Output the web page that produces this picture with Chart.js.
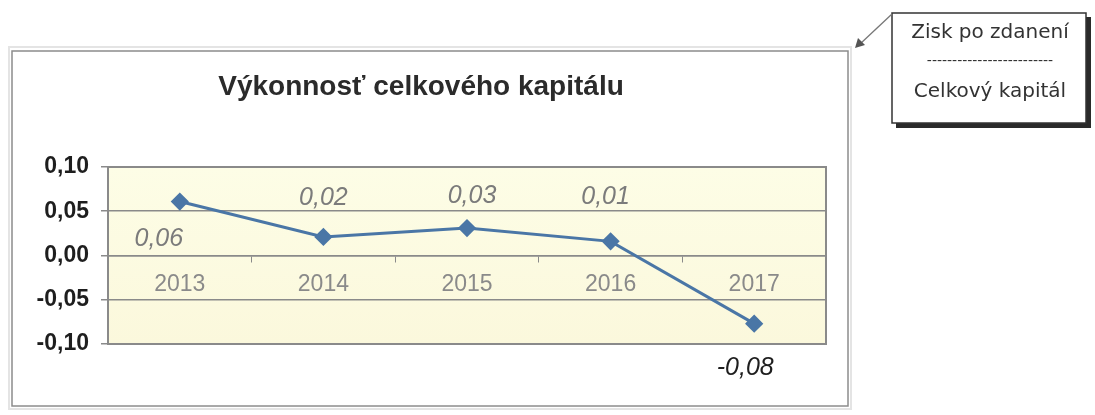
<!DOCTYPE html>
<html>
<head>
<meta charset="utf-8">
<script src="https://cdn.jsdelivr.net/npm/chart.js@4/dist/chart.umd.min.js"></script>
<style>
  html, body { margin: 0; padding: 0; background: #fff; }
  #wrap { width: 1095px; height: 415px; position: relative; }
</style>
</head>
<body>
<div id="wrap"><canvas id="chart" width="1095" height="415"></canvas></div>
<script>
const years = ['2013', '2014', '2015', '2016', '2017'];
const values = [0.061, 0.021, 0.031, 0.016, -0.077];
const valueLabels = ['0,06', '0,02', '0,03', '0,01', '-0,08'];
const yTicks = [0.10, 0.05, 0.00, -0.05, -0.10];
const chartTitle = 'Výkonnosť celkového kapitálu';
const noteTop = 'Zisk po zdanení';
const noteBottom = 'Celkový kapitál';

// where each value label sits relative to its point (dx, dy)
const labelOffsets = [[-21, 38], [0, -39], [5, -32], [-5, -44], [-9, 44]];
const labelColors = ['#7b7b7b', '#7b7b7b', '#7b7b7b', '#7b7b7b', '#1e1e1e'];

const fmt = v => (Math.abs(v) < 1e-9 ? 0 : v).toFixed(2).replace('.', ',');

const decor = {
  id: 'decor',
  beforeDraw(chart) {
    const ctx = chart.ctx;
    const a = chart.chartArea;
    ctx.save();
    ctx.fillStyle = '#fff';
    ctx.fillRect(0, 0, chart.width, chart.height);

    // outer chart frame
    ctx.strokeStyle = '#e4e4e4';
    ctx.lineWidth = 2;
    ctx.strokeRect(9, 47, 842, 362);
    ctx.strokeStyle = '#8c8c8c';
    ctx.lineWidth = 1.5;
    ctx.strokeRect(12, 51, 836, 355);

    // plot background
    const g = ctx.createLinearGradient(0, a.top, 0, a.bottom);
    g.addColorStop(0, '#fdfde6');
    g.addColorStop(1, '#fbf8dc');
    ctx.fillStyle = g;
    ctx.fillRect(a.left, a.top, a.right - a.left, a.bottom - a.top);

    // title
    ctx.fillStyle = '#2b2b2b';
    ctx.font = 'bold 28px "Liberation Sans", Arial, sans-serif';
    ctx.textAlign = 'center';
    ctx.textBaseline = 'middle';
    ctx.fillText(chartTitle, 421, 87);

    // callout box
    ctx.fillStyle = '#2a2a2a';
    ctx.fillRect(896, 17, 195, 111);
    ctx.fillStyle = '#fff';
    ctx.fillRect(892, 13, 194, 110);
    ctx.strokeStyle = '#333';
    ctx.lineWidth = 1.5;
    ctx.strokeRect(892, 13, 194, 110);
    ctx.fillStyle = '#333';
    ctx.font = '20px "DejaVu Sans", Verdana, sans-serif';
    ctx.fillText(noteTop, 990, 33);
    ctx.font = '14px "DejaVu Sans", Verdana, sans-serif';
    ctx.fillText('-------------------------', 990, 61);
    ctx.font = '20px "DejaVu Sans", Verdana, sans-serif';
    ctx.fillText(noteBottom, 990, 92);

    // arrow to the chart frame
    ctx.strokeStyle = '#777';
    ctx.lineWidth = 1.3;
    ctx.beginPath();
    ctx.moveTo(892, 14);
    ctx.lineTo(860, 44);
    ctx.stroke();
    ctx.fillStyle = '#555';
    ctx.beginPath();
    ctx.moveTo(855, 48);
    ctx.lineTo(858, 38);
    ctx.lineTo(865, 45);
    ctx.closePath();
    ctx.fill();
    ctx.restore();
  },
  afterDatasetsDraw(chart) {
    const ctx = chart.ctx;
    const a = chart.chartArea;
    ctx.save();
    ctx.strokeStyle = '#8a8a8a';
    ctx.lineWidth = 2;
    ctx.strokeRect(a.left, a.top, a.right - a.left, a.bottom - a.top);

    const meta = chart.getDatasetMeta(0);
    ctx.font = 'italic 25px "Liberation Sans", Arial, sans-serif';
    ctx.textAlign = 'center';
    ctx.textBaseline = 'middle';
    meta.data.forEach((pt, i) => {
      ctx.fillStyle = labelColors[i];
      ctx.fillText(valueLabels[i], pt.x + labelOffsets[i][0], pt.y + labelOffsets[i][1]);
    });
    ctx.restore();
  }
};

new Chart(document.getElementById('chart'), {
  type: 'line',
  data: {
    labels: years,
    datasets: [{
      data: values,
      borderColor: '#4a76a6',
      backgroundColor: '#4a76a6',
      borderWidth: 3,
      tension: 0,
      pointStyle: 'rectRot',
      pointRadius: 7,
      pointHoverRadius: 7
    }]
  },
  options: {
    responsive: false,
    animation: false,
    events: [],
    layout: { padding: { left: 0, top: 167, right: 269, bottom: 71 } },
    plugins: { legend: { display: false }, title: { display: false }, tooltip: { enabled: false } },
    scales: {
      x: {
        type: 'category',
        position: { y: 0 },
        offset: true,
        grid: { drawOnChartArea: false, drawTicks: true, tickLength: 6, color: '#8a8a8a', offset: true },
        border: { display: true, color: '#8a8a8a', width: 1.5 },
        ticks: {
          padding: 9,
          color: '#8a8a8a',
          font: { family: '"Liberation Sans", Arial, sans-serif', size: 23 }
        }
      },
      y: {
        min: -0.1,
        max: 0.1,
        afterFit(s) { s.width = 108; },
        afterBuildTicks(s) { s.ticks = yTicks.map(v => ({ value: v })); },
        grid: { color: '#8a8a8a', lineWidth: 1.5, tickLength: 7 },
        border: { display: false },
        ticks: {
          padding: 12,
          color: '#1e1e1e',
          font: { family: '"Liberation Sans", Arial, sans-serif', size: 23, weight: 'bold' },
          callback: v => fmt(v)
        }
      }
    }
  },
  plugins: [decor]
});
</script>
</body>
</html>
